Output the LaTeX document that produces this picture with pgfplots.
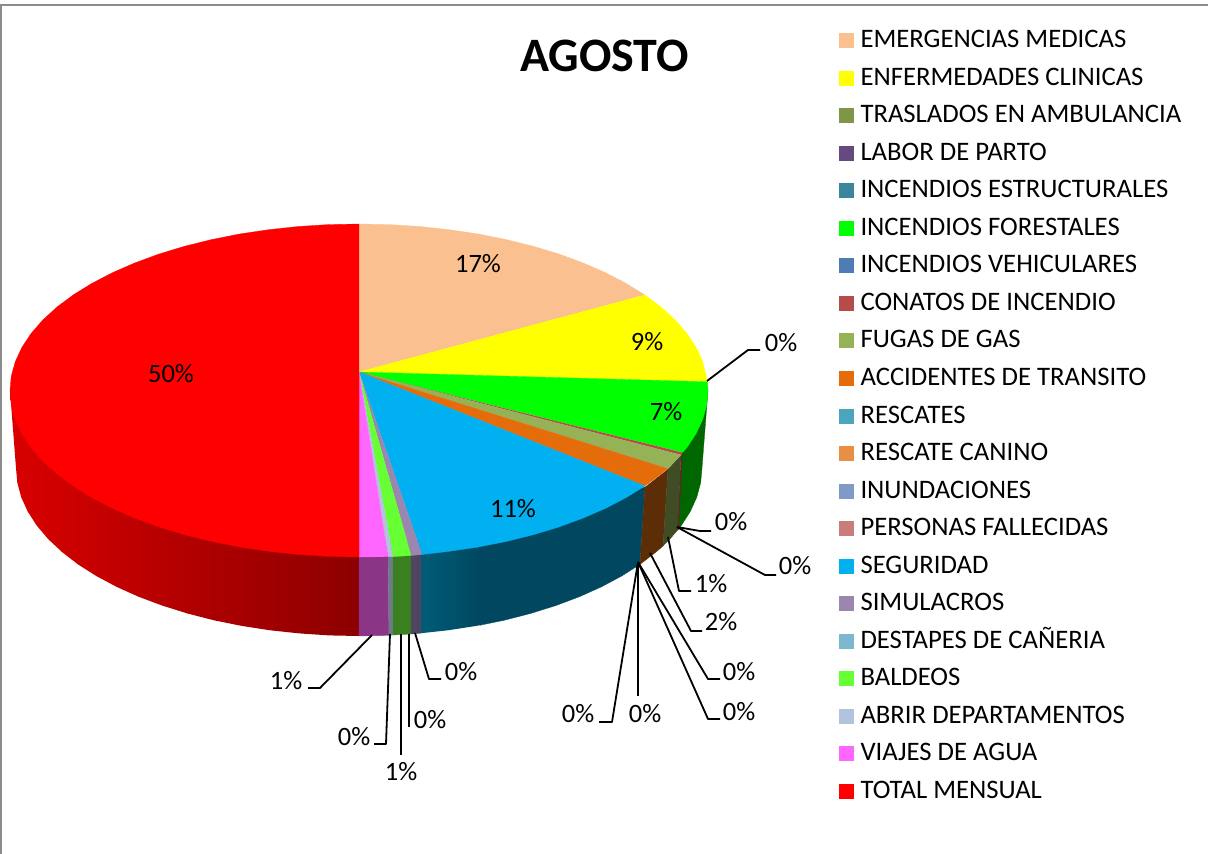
\documentclass[border=0pt]{standalone}
\usepackage{fontspec}
\setmainfont{Carlito}
\usepackage{pgfplots}
\pgfplotsset{compat=1.18}

% legend / top colours
\definecolor{cEmerg}{HTML}{FAC090}
\definecolor{cEnferm}{HTML}{FFFF00}
\definecolor{cTrasl}{HTML}{7F9647}
\definecolor{cLabor}{HTML}{644A7E}
\definecolor{cEstruct}{HTML}{3C869C}
\definecolor{cForest}{HTML}{00FF00}
\definecolor{cVehic}{HTML}{4F7CB4}
\definecolor{cConat}{HTML}{B64C4A}
\definecolor{cFugas}{HTML}{95B257}
\definecolor{cAccid}{HTML}{E46C0A}
\definecolor{cResc}{HTML}{4AA5BD}
\definecolor{cCanino}{HTML}{E98F45}
\definecolor{cInund}{HTML}{7F9AC6}
\definecolor{cFallec}{HTML}{C87C7C}
\definecolor{cSegur}{HTML}{00B0F0}
\definecolor{cSimul}{HTML}{9B86B0}
\definecolor{cDestap}{HTML}{7BB8CE}
\definecolor{cBald}{HTML}{66FF33}
\definecolor{cAbrir}{HTML}{B2C3DE}
\definecolor{cViajes}{HTML}{FF66FF}
\definecolor{cTotal}{HTML}{FF0000}
% wall colours
\definecolor{wViajes}{HTML}{8B3586}
\definecolor{wAbrir}{HTML}{6E7A8C}
\definecolor{wBald}{HTML}{3A8020}
\definecolor{wSimul}{HTML}{4F4560}
\definecolor{wSegurA}{HTML}{005C76}
\definecolor{wSegur}{HTML}{00475F}
\definecolor{wAccid}{HTML}{5C2D06}
\definecolor{wFugas}{HTML}{404C24}
\definecolor{wConat}{HTML}{5C2826}
\definecolor{wForest}{HTML}{006600}
\definecolor{frameg}{HTML}{8C8C8C}

\tikzset{slab/.style={font=\fontsize{26.5}{28}\selectfont, inner sep=0pt}}

\begin{document}
\begin{tikzpicture}
\useasboundingbox (0,0) rectangle (1208pt,854pt);
\begin{axis}[
    scale only axis,
    width=1208pt,
    height=854pt,
    xmin=0, xmax=1208,
    ymin=0, ymax=854,
    y dir=reverse,
    axis lines=none,
    clip=false,
    legend style={
        at={(axis cs:839,29.5)},
        anchor=north west,
        draw=none,
        fill=none,
        inner sep=0pt,
        outer sep=0pt,
        row sep=15.55pt,
        font=\fontsize{26.7}{28}\selectfont,
        nodes={inner sep=0pt, text height=18pt, text depth=4pt},
    },
    legend cell align=left,
    legend image code/.code={\fill[#1, draw=none] (0pt,-7.5pt) rectangle (15pt,7.5pt); \path[draw=none, fill=none] (0pt,0pt) -- (21.5pt,0pt);},
    leader/.style={black, line width=1.8pt, forget plot, line join=round},
    wall/.style={fill=#1, draw=#1, line width=0.3pt, forget plot},
]
% frame
\addplot[frameg, line width=2pt, forget plot] coordinates {(1,854) (1,4.5) (1208,4.5)};

% side walls
\addplot[shade, left color=red!85!black, right color=red!55!black, draw=none, forget plot] coordinates {
    (10,390.5) (16,468) (17.3,482.6) (21.2,497.2) (27.7,511.5) (36.7,525.5) (48.1,539) (62,552) (78,564.4)
    (96.3,576) (116.5,586.8) (138.5,596.7) (162.3,605.6) (187.5,613.5) (214,620.3) (241.7,625.9)
    (270.2,630.3) (299.4,633.4) (329.1,635.4) (359,636) (359,480) (200,480)
};
\addplot[wall=wViajes] coordinates {(359,540) (359,636) (388.9,635.4) (388,540)};
\addplot[wall=wAbrir] coordinates {(388,540) (388.9,635.4) (393,635) (393,540)};
\addplot[wall=wBald] coordinates {(393,540) (393,635) (411,634) (411,540)};
\addplot[wall=wSimul] coordinates {(411,540) (411,634) (421,633.2) (422,540)};
\addplot[shade, left color=wSegurA, right color=wSegur, draw=none, forget plot] coordinates {(422,520) (421,633.2) (447.8,630.3) (476.3,625.9) (482,624.8) (482,520)};
\addplot[wall=wSegur] coordinates {
    (480,520) (480,625.2) (504,620.3) (530.5,613.5) (555.7,605.6) (579.5,596.7) (601.5,586.8) (621.7,576) (640,564.4) (645,487) (600,500)
};
\addplot[wall=wAccid] coordinates {(645,487) (640,564.4) (656,552) (663,546) (668,469)};
\addplot[wall=wFugas] coordinates {(668,469) (663,546) (669.9,539) (678,529.7) (681,455)};
\addplot[wall=wForest] coordinates {
    (682,453) (678,529.7) (681.3,525.5) (690.3,511.5) (696.8,497.2) (700.7,482.6) (702,468) (708,390.5) (690,420)
};
\addplot[fill=wConat, draw=none, forget plot] coordinates {(681,455) (677.5,530) (679,528) (682.5,453)};

% top face
\addplot[fill=cEmerg, draw=cEmerg, line width=0.3pt, forget plot] coordinates {
    (359,372) (359,224) (389.4,224.6) (419.6,226.5) (449.3,229.7) (478.4,234) (506.5,239.6) (533.5,246.3)
    (559.2,254.1) (583.3,263) (605.8,272.8) (626.3,283.5) (644.9,295)
};
\addplot[fill=cEnferm, draw=cEnferm, line width=0.3pt, forget plot] coordinates {
    (359,372) (644.9,295) (661.2,307.2) (675.3,320.1) (687,333.6) (696.1,347.4) (702.7,361.6) (707.5,381.8)
};
\addplot[fill=cForest, draw=cForest, line width=0.3pt, forget plot] coordinates {
    (359,372) (707.5,381.8) (708,390.5) (706.7,405) (702.7,419.4) (696.1,433.6) (687,447.4) (682.5,452.5)
};
\addplot[fill=cConat, draw=none, forget plot] coordinates {(359,372) (682.5,452.5) (681,455)};
\addplot[fill=cFugas, draw=cFugas, line width=0.3pt, forget plot] coordinates {(359,372) (681,455) (675.3,460.9) (667.5,468.6)};
\addplot[fill=cAccid, draw=cAccid, line width=0.3pt, forget plot] coordinates {(359,372) (667.5,468.6) (661.2,473.8) (644.9,486)};
\addplot[fill=cSegur, draw=cSegur, line width=0.3pt, forget plot] coordinates {
    (359,372) (644.9,486) (626.3,497.5) (605.8,508.2) (583.3,518) (559.2,526.9) (533.5,534.7) (506.5,541.4)
    (478.4,547) (449.3,551.3) (422,554.5)
};
\addplot[fill=cSimul, draw=cSimul, line width=0.3pt, forget plot] coordinates {(359,372) (422,554.5) (411,555.5)};
\addplot[fill=cBald, draw=cBald, line width=0.3pt, forget plot] coordinates {(359,372) (411,555.5) (393,556.6)};
\addplot[fill=cAbrir, draw=cAbrir, line width=0.3pt, forget plot] coordinates {(359,372) (393,556.6) (388,556.7)};
\addplot[fill=cViajes, draw=cViajes, line width=0.3pt, forget plot] coordinates {(359,372) (388,556.7) (359,557)};
\addplot[fill=cTotal, draw=cTotal, line width=0.3pt, forget plot] coordinates {
    (359,372) (359,557) (328.6,556.4) (298.4,554.5) (268.7,551.3) (239.6,547) (211.5,541.4) (184.5,534.7)
    (158.8,526.9) (134.7,518) (112.2,508.2) (91.7,497.5) (73.1,486) (56.8,473.8) (42.7,460.9) (31,447.4)
    (21.9,433.6) (15.3,419.4) (11.3,405) (10,390.5) (11.3,376) (15.3,361.6) (21.9,347.4) (31,333.6)
    (42.7,320.1) (56.8,307.2) (73.1,295) (91.7,283.5) (112.2,272.8) (134.7,263) (158.8,254.1) (184.5,246.3)
    (211.5,239.6) (239.6,234) (268.7,229.7) (298.4,226.5) (328.6,224.6) (359,224)
};

% leader lines
\addplot[leader] coordinates {(707,381) (748,350) (760,350)};
\addplot[leader] coordinates {(677,527) (700,531) (711,531)};
\addplot[leader] coordinates {(677,527) (765,575) (776,575)};
\addplot[leader] coordinates {(668,537) (679,591) (691,591)};
\addplot[leader] coordinates {(650,553) (691,631) (702,631)};
\addplot[leader] coordinates {(638,562) (708,679) (720,679)};
\addplot[leader] coordinates {(638,562) (708,719) (720,719)};
\addplot[leader] coordinates {(638,562) (638,696)};
\addplot[leader] coordinates {(638,562) (612,722) (599,722)};
\addplot[leader] coordinates {(415,633) (429,679) (441,679)};
\addplot[leader] coordinates {(409,634) (409,727)};
\addplot[leader] coordinates {(401,634) (401,755)};
\addplot[leader] coordinates {(390,634) (386,744) (374,744)};
\addplot[leader] coordinates {(372,635) (320,688) (308,688)};

% legend
\addlegendimage{cEmerg}\addlegendentry{EMERGENCIAS MEDICAS}
\addlegendimage{cEnferm}\addlegendentry{ENFERMEDADES CLINICAS}
\addlegendimage{cTrasl}\addlegendentry{TRASLADOS EN AMBULANCIA}
\addlegendimage{cLabor}\addlegendentry{LABOR DE PARTO}
\addlegendimage{cEstruct}\addlegendentry{INCENDIOS ESTRUCTURALES}
\addlegendimage{cForest}\addlegendentry{INCENDIOS FORESTALES}
\addlegendimage{cVehic}\addlegendentry{INCENDIOS VEHICULARES}
\addlegendimage{cConat}\addlegendentry{CONATOS DE INCENDIO}
\addlegendimage{cFugas}\addlegendentry{FUGAS DE GAS}
\addlegendimage{cAccid}\addlegendentry{ACCIDENTES DE TRANSITO}
\addlegendimage{cResc}\addlegendentry{RESCATES}
\addlegendimage{cCanino}\addlegendentry{RESCATE CANINO}
\addlegendimage{cInund}\addlegendentry{INUNDACIONES}
\addlegendimage{cFallec}\addlegendentry{PERSONAS FALLECIDAS}
\addlegendimage{cSegur}\addlegendentry{SEGURIDAD}
\addlegendimage{cSimul}\addlegendentry{SIMULACROS}
\addlegendimage{cDestap}\addlegendentry{DESTAPES DE CAÑERIA}
\addlegendimage{cBald}\addlegendentry{BALDEOS}
\addlegendimage{cAbrir}\addlegendentry{ABRIR DEPARTAMENTOS}
\addlegendimage{cViajes}\addlegendentry{VIAJES DE AGUA}
\addlegendimage{cTotal}\addlegendentry{TOTAL MENSUAL}

% title and percent labels
\node[font=\fontsize{48}{50}\selectfont\bfseries, inner sep=0pt] at (axis cs:604.5,56) {AGOSTO};
\node[slab] at (axis cs:478,264) {17\%};
\node[slab] at (axis cs:647,342) {9\%};
\node[slab] at (axis cs:666,412) {7\%};
\node[slab] at (axis cs:513,509) {11\%};
\node[slab] at (axis cs:171,374) {50\%};
\node[slab] at (axis cs:781,343) {0\%};
\node[slab] at (axis cs:731,522) {0\%};
\node[slab] at (axis cs:795,566) {0\%};
\node[slab] at (axis cs:711,584) {1\%};
\node[slab] at (axis cs:721,622) {2\%};
\node[slab] at (axis cs:739,672) {0\%};
\node[slab] at (axis cs:739,712) {0\%};
\node[slab] at (axis cs:645,714) {0\%};
\node[slab] at (axis cs:578,714) {0\%};
\node[slab] at (axis cs:461,672) {0\%};
\node[slab] at (axis cs:430,720) {0\%};
\node[slab] at (axis cs:401,772) {1\%};
\node[slab] at (axis cs:354,737) {0\%};
\node[slab] at (axis cs:286,681) {1\%};
\end{axis}
\end{tikzpicture}
\end{document}
